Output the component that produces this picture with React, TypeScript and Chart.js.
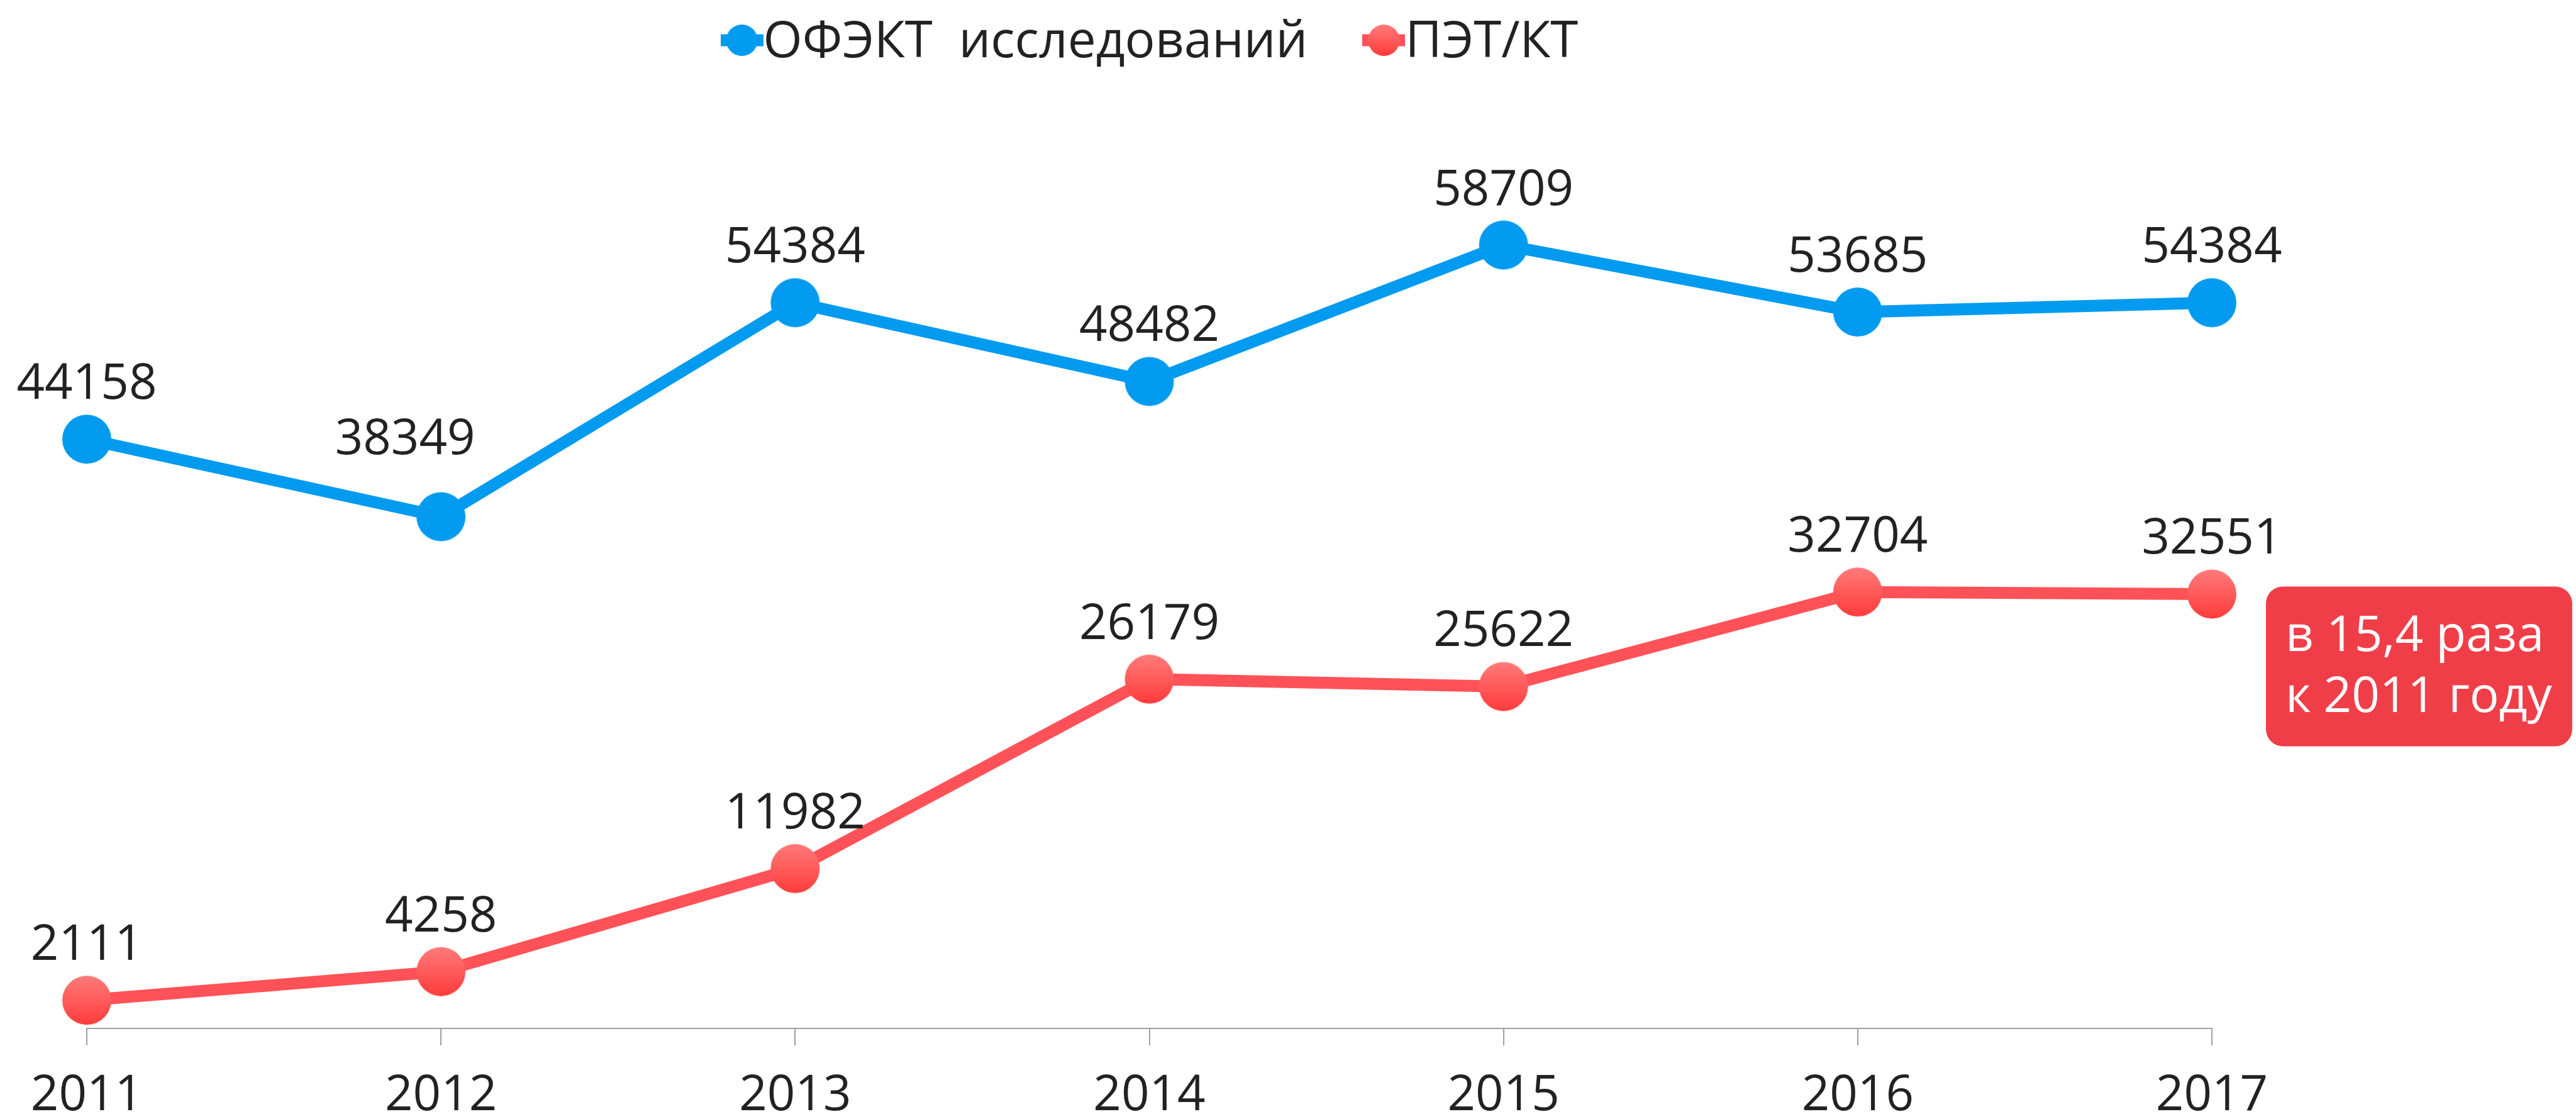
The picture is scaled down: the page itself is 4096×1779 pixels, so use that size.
import React, { useEffect, useRef } from 'react';
import { Chart, registerables } from 'chart.js';

Chart.register(...registerables);

const years = ['2011', '2012', '2013', '2014', '2015', '2016', '2017'];
const spectValues = [44158, 38349, 54384, 48482, 58709, 53685, 54384];
const petValues = [2111, 4258, 11982, 26179, 25622, 32704, 32551];
const seriesNames = ['ОФЭКТ  исследований', 'ПЭТ/КТ'];
const noteLines = ['в 15,4 раза', 'к 2011 году'];

const BLUE = '#039BEF';
const RED_LINE = '#FF5258';
const RED_TOP = '#FF7B7B';
const RED_BOTTOM = '#FF3B3B';
const NOTE_BG = '#F03E48';
const TEXT = '#222222';
const AXIS = '#A0A0A0';
const FONT = '"Open Sans", "Noto Sans", sans-serif';
const FS = 78;

// label nudges (dataset:index -> [dx, dy]) to keep a label clear of the line
const LABEL_NUDGE: Record<string, [number, number]> = { '0:1': [-57, -35] };

function makeMarker(r: number, kind: 'blue' | 'red', stub: number, lw: number): HTMLCanvasElement {
  const w = Math.ceil(Math.max(2 * r + 2, stub));
  const h = Math.ceil(2 * r + 2);
  const c = document.createElement('canvas');
  c.width = w;
  c.height = h;
  const g = c.getContext('2d')!;
  const cx = w / 2;
  const cy = h / 2;
  if (stub > 0) {
    g.strokeStyle = kind === 'blue' ? BLUE : RED_LINE;
    g.lineWidth = lw;
    g.beginPath();
    g.moveTo(0, cy);
    g.lineTo(w, cy);
    g.stroke();
  }
  if (kind === 'blue') {
    g.fillStyle = BLUE;
  } else {
    const grad = g.createLinearGradient(0, cy - r, 0, cy + r);
    grad.addColorStop(0, RED_TOP);
    grad.addColorStop(1, RED_BOTTOM);
    g.fillStyle = grad;
  }
  g.beginPath();
  g.arc(cx, cy, r, 0, Math.PI * 2);
  g.fill();
  return c;
}

export default function App() {
  const ref = useRef<HTMLCanvasElement | null>(null);

  useEffect(() => {
    if (!ref.current) return;
    const blueMarker = makeMarker(39, 'blue', 0, 0);
    const redMarker = makeMarker(39, 'red', 0, 0);
    const blueLegend = makeMarker(25, 'blue', 68, 19);
    const redLegend = makeMarker(25, 'red', 68, 19);

    const overlay = {
      id: 'overlay',
      afterDatasetsDraw(chart: any) {
        const ctx = chart.ctx as CanvasRenderingContext2D;
        const area = chart.chartArea;
        ctx.save();
        // value labels
        ctx.font = `${FS}px ${FONT}`;
        ctx.fillStyle = TEXT;
        ctx.textAlign = 'center';
        ctx.textBaseline = 'alphabetic';
        chart.data.datasets.forEach((ds: any, i: number) => {
          const meta = chart.getDatasetMeta(i);
          meta.data.forEach((pt: any, j: number) => {
            const n = LABEL_NUDGE[`${i}:${j}`] || [0, 0];
            ctx.fillText(String(ds.data[j]), pt.x + n[0], pt.y - 64 + n[1]);
          });
        });

        // note box
        const redMeta = chart.getDatasetMeta(1);
        const last = redMeta.data[redMeta.data.length - 1];
        const bx = last.x + 86;
        const by = last.y - 12;
        const bw = chart.width - 6 - bx;
        const bh = 254;
        ctx.fillStyle = NOTE_BG;
        ctx.beginPath();
        (ctx as any).roundRect(bx, by, bw, bh, 27);
        ctx.fill();
        ctx.fillStyle = '#FFFFFF';
        ctx.textAlign = 'left';
        ctx.fillText(noteLines[0], bx + 31, by + 103);
        ctx.fillText(noteLines[1], bx + 31, by + 200);

        // legend
        ctx.font = `${FS + 2}px ${FONT}`;
        const w1 = ctx.measureText(seriesNames[0]).width;
        const w2 = ctx.measureText(seriesNames[1]).width;
        const mw = 68;
        const gap = 87;
        const total = mw + w1 + gap + mw + w2;
        const cx = (area.left + area.right) / 2;
        let x = cx - total / 2;
        const my = 64;
        const ty = 91;
        ctx.drawImage(blueLegend, x + mw / 2 - blueLegend.width / 2, my - blueLegend.height / 2);
        x += mw;
        ctx.fillStyle = TEXT;
        ctx.fillText(seriesNames[0], x, ty);
        x += w1 + gap;
        ctx.drawImage(redLegend, x + mw / 2 - redLegend.width / 2, my - redLegend.height / 2);
        x += mw;
        ctx.fillText(seriesNames[1], x, ty);
        ctx.restore();
      },
    };

    const chart = new Chart(ref.current, {
      type: 'line',
      data: {
        labels: years,
        datasets: [
          {
            label: seriesNames[0],
            data: spectValues,
            borderColor: BLUE,
            backgroundColor: BLUE,
            borderWidth: 19,
            pointStyle: blueMarker as any,
            pointRadius: 39,
            tension: 0,
            clip: false as any,
          },
          {
            label: seriesNames[1],
            data: petValues,
            borderColor: RED_LINE,
            backgroundColor: RED_LINE,
            borderWidth: 19,
            pointStyle: redMarker as any,
            pointRadius: 39,
            tension: 0,
            clip: false as any,
          },
        ],
      },
      options: {
        responsive: false,
        animation: false,
        events: [],
        layout: { padding: { top: 150, left: 138, right: 579, bottom: 0 } },
        plugins: {
          legend: { display: false },
          tooltip: { enabled: false },
          title: { display: false },
        },
        scales: {
          y: { display: false, min: 0, max: 70000 },
          x: {
            offset: false,
            grid: {
              display: true,
              drawOnChartArea: false,
              drawTicks: true,
              tickLength: 27,
              color: AXIS,
              lineWidth: 2,
            },
            border: { display: true, color: AXIS, width: 2 },
            ticks: {
              font: { family: FONT, size: FS },
              color: TEXT,
              padding: 34,
              maxRotation: 0,
              autoSkip: false,
            },
            afterFit: (s: any) => {
              s.height = 144;
            },
          },
        },
      },
      plugins: [overlay],
    });
    return () => chart.destroy();
  }, []);

  return (
    <div style={{ position: 'fixed', left: 0, top: 0, width: 4096, height: 1779, background: '#fff' }}>
      <canvas ref={ref} width={4096} height={1779} style={{ width: 4096, height: 1779, display: 'block' }} />
    </div>
  );
}
